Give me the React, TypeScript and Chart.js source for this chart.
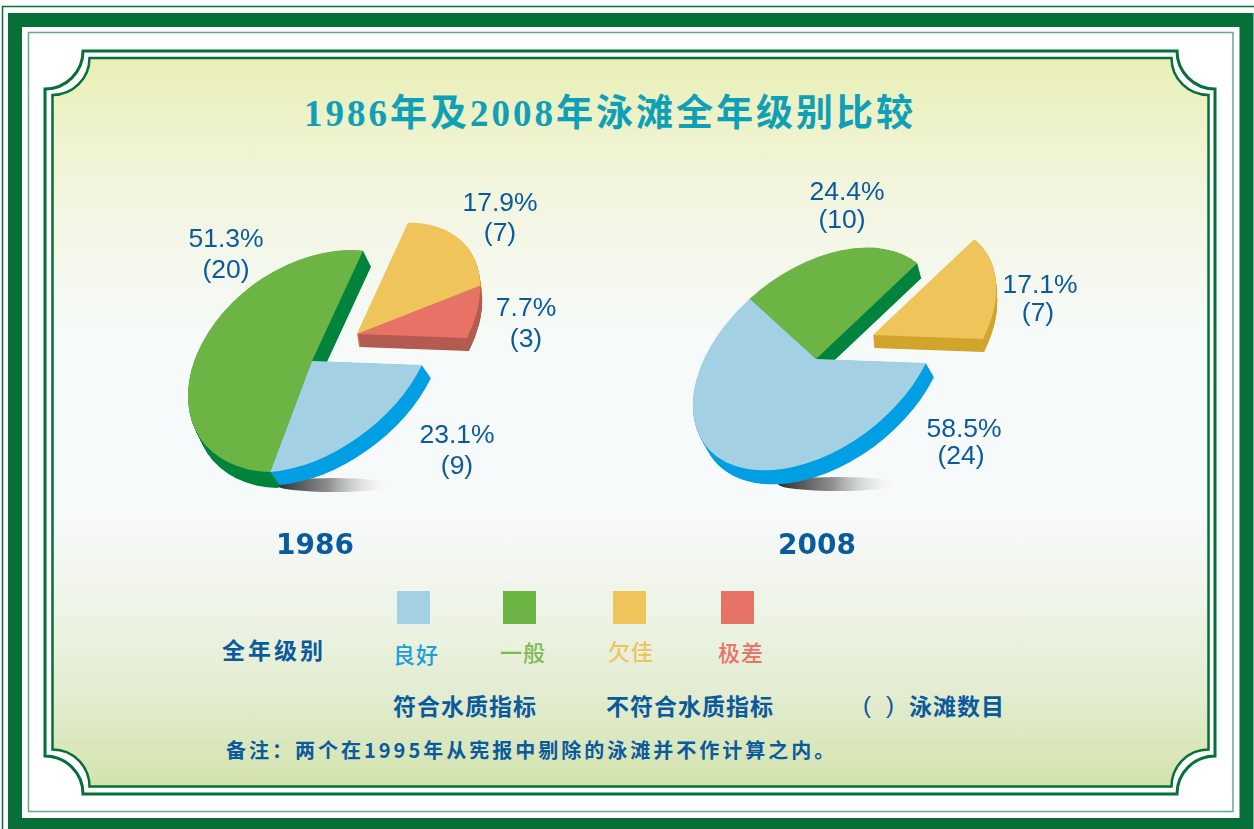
import React, { useEffect, useRef } from "react";
import { Chart, registerables } from "chart.js";

Chart.register(...registerables);

// ---------- data ----------
const categories = ["良好", "一般", "欠佳", "极差"];
const counts1986 = [9, 20, 7, 3];
const counts2008 = [24, 10, 7];
const percent1986 = ["23.1%", "51.3%", "17.9%", "7.7%"];
const percent2008 = ["58.5%", "24.4%", "17.1%"];
const yearLabels = ["1986", "2008"];
const noteCompliant = "符合水质指标";
const noteFail = "不符合水质指标";
const noteCount = "泳滩数目";
const titleText = "1986年及2008年泳滩全年级别比较";
const footText = "备注：两个在1995年从宪报中剔除的泳滩并不作计算之内。";
const gradeText = "全年级别";

// ---------- styles ----------
const topColors = ["#a3d0e3", "#6cb545", "#efc45b", "#e77266"];
const sideColors = ["#009fe3", "#00843d", "#d2a52d", "#b35c52"];
const legendTextColors = ["#1a9fd8", "#7cbb55", "#efc35f", "#e6756a"];
const BLUE = "#0b5a9e";
const FRAME = "#076f38";
const CJK = '"Noto Sans CJK SC","Noto Sans CJK TC",sans-serif';
const SERIF_CJK = '"Liberation Serif","Noto Sans CJK SC",serif';

// affine maps of the tilted pie: where unit x / unit y land, in pixels
const TILT = [110, 4, -55.5, 111.3];
const TILT_FULL = [111, 16, -55.6, 109.9];

const CANVAS_W = 420;
const CANVAS_H = 350;

function tiltedPiePlugin(
  apex: number[],
  offsets: number[][],
  depths: number[][],
  order: number[][],
  tilts: number[][]
) {
  return {
    id: "tiltedPie",
    beforeDatasetsDraw(chart: any) {
      const ctx = chart.ctx;
      const arcs = chart.getDatasetMeta(0).data;
      const paint = (i: number, dx: number, dy: number, color: string) => {
        const arc = arcs[i];
        const R = arc.outerRadius;
        const m = tilts[i];
        const saved = arc.options;
        arc.options = {
          backgroundColor: color,
          borderColor: color,
          borderWidth: 0,
          borderAlign: "center",
          borderRadius: 0,
          offset: 0,
          spacing: 0,
          circular: true,
        };
        ctx.save();
        ctx.transform(
          m[0] / R,
          m[1] / R,
          m[2] / R,
          m[3] / R,
          apex[0] + offsets[i][0] + dx,
          apex[1] + offsets[i][1] + dy
        );
        ctx.translate(-arc.x, -arc.y);
        arc.draw(ctx);
        ctx.restore();
        arc.options = saved;
      };
      for (const group of order) {
        for (const i of group) {
          const [dx, dy] = depths[i];
          const steps = Math.ceil(Math.max(Math.abs(dx), Math.abs(dy))) * 2;
          for (let s = steps; s >= 1; s--) {
            paint(i, (dx * s) / steps, (dy * s) / steps, sideColors[i]);
          }
        }
        for (const i of group) paint(i, 0, 0, topColors[i]);
      }
      return false;
    },
  };
}

function Pie(props: {
  left: number;
  top: number;
  values: number[];
  apex: number[];
  offsets: number[][];
  depths: number[][];
  order: number[][];
  tilts: number[][];
}) {
  const ref = useRef<HTMLCanvasElement>(null);
  useEffect(() => {
    const chart = new Chart(ref.current as HTMLCanvasElement, {
      type: "pie",
      data: {
        labels: categories.slice(0, props.values.length),
        datasets: [
          {
            data: props.values,
            backgroundColor: topColors.slice(0, props.values.length),
            borderWidth: 0,
          },
        ],
      },
      options: {
        responsive: false,
        animation: false,
        rotation: 90,
        layout: { padding: 0 },
        plugins: { legend: { display: false }, tooltip: { enabled: false } },
      },
      plugins: [tiltedPiePlugin(props.apex, props.offsets, props.depths, props.order, props.tilts)],
    } as any);
    return () => chart.destroy();
  }, []);
  return (
    <canvas
      ref={ref}
      width={CANVAS_W}
      height={CANVAS_H}
      style={{ position: "absolute", left: props.left, top: props.top, width: CANVAS_W, height: CANVAS_H }}
    />
  );
}

function T(props: {
  x: number;
  y: number;
  size: number;
  color?: string;
  font?: string;
  weight?: number;
  spacing?: number;
  center?: boolean;
  children: React.ReactNode;
}) {
  return (
    <div
      style={{
        position: "absolute",
        left: props.x,
        top: props.y - 30,
        height: 60,
        lineHeight: "60px",
        fontSize: props.size,
        color: props.color || BLUE,
        fontFamily: props.font || CJK,
        fontWeight: props.weight || 400,
        letterSpacing: props.spacing || 0,
        whiteSpace: "nowrap",
        transform: props.center ? "translateX(-50%)" : undefined,
      }}
    >
      {props.children}
    </div>
  );
}

function framePath(l: number, t: number, r: number, b: number, cx: number, cy: number) {
  return (
    `M${l + cx},${t} H${r - cx} A${cx},${cy} 0 0 0 ${r},${t + cy} V${b - cy} ` +
    `A${cx},${cy} 0 0 0 ${r - cx},${b} H${l + cx} A${cx},${cy} 0 0 0 ${l},${b - cy} V${t + cy} ` +
    `A${cx},${cy} 0 0 0 ${l + cx},${t} Z`
  );
}

const LABEL_FONT = '"Liberation Sans",Arial,sans-serif';
const label1986 = [
  [457, 434, 457, 465],
  [226, 238, 226, 269],
  [500, 202, 500, 232],
  [526, 307, 526, 338],
];
const label2008 = [
  [964, 428, 961, 455],
  [847, 191, 842, 219],
  [1040, 284, 1038, 312],
];
const legendSquareX = [397, 503, 613, 721];
const legendTextX = [393, 500, 608, 718];
const legendTextY = [653, 651, 650, 651];

export default function App() {
  const left1 = 150;
  const top1 = 170;
  const left2 = 660;
  const top2 = 170;
  return (
    <div style={{ position: "fixed", left: 0, top: 0, width: 1254, height: 829, overflow: "hidden", background: "#fff" }}>
      <svg width={1254} height={829} style={{ position: "absolute", left: 0, top: 0 }}>
        <defs>
          <linearGradient id="panel" x1="0" y1="0" x2="0" y2="1">
            <stop offset="0" stopColor="#e9efb6" />
            <stop offset="0.17" stopColor="#f2f5dc" />
            <stop offset="0.38" stopColor="#f6faf9" />
            <stop offset="0.62" stopColor="#f7fafb" />
            <stop offset="0.75" stopColor="#eff4e8" />
            <stop offset="0.88" stopColor="#e2ecce" />
            <stop offset="1" stopColor="#d3e3ad" />
          </linearGradient>
          <linearGradient id="shadow" x1="0" y1="0" x2="1" y2="0">
            <stop offset="0" stopColor="#2e2e2e" />
            <stop offset="0.45" stopColor="#8f8f8f" />
            <stop offset="1" stopColor="#ffffff" stopOpacity="0.1" />
          </linearGradient>
        </defs>
        <path d="M2.5,829 V6.5 H1254" fill="none" stroke={FRAME} strokeWidth={1.5} />
        <path d="M15,829 V20 H1246.5 V829" fill="none" stroke={FRAME} strokeWidth={14} />
        <rect x={8} y={818} width={1245} height={11} fill={FRAME} />
        <rect x={28.5} y={32.5} width={1204.5} height={779} fill="none" stroke="#6aa986" strokeWidth={1.5} />
        <path d={framePath(45, 51, 1215, 794, 38, 38)} fill="none" stroke={FRAME} strokeWidth={3} />
        <path d={framePath(52.5, 58, 1208.5, 786.5, 37, 37)} fill="url(#panel)" stroke={FRAME} strokeWidth={2.5} />
        <ellipse cx={334} cy={485} rx={58} ry={7} fill="url(#shadow)" />
        <ellipse cx={838} cy={484} rx={60} ry={7} fill="url(#shadow)" />
      </svg>

      <Pie
        left={left1}
        top={top1}
        values={counts1986}
        apex={[312 - left1, 361 - top1]}
        offsets={[[0, 0], [0, 0], [45, -27], [45, -27]]}
        depths={[[9, 13], [8, 16], [2, 13], [2, 13]]}
        order={[[1, 0], [2, 3]]}
        tilts={[TILT, TILT_FULL, TILT, TILT]}
      />
      <Pie
        left={left2}
        top={top2}
        values={counts2008}
        apex={[816 - left2, 359 - top2]}
        offsets={[[0, 0], [0, 0], [57, -24]]}
        depths={[[8, 14], [4, 15], [1, 13]]}
        order={[[1, 0], [2]]}
        tilts={[TILT, TILT, TILT]}
      />

      <T x={610} y={114} size={37} color="#0fa0b6" font={SERIF_CJK} weight={700} spacing={3} center>
        {titleText}
      </T>

      {percent1986.map((p, i) => (
        <React.Fragment key={"a" + i}>
          <T x={label1986[i][0]} y={label1986[i][1]} size={26.5} font={LABEL_FONT} center>{p}</T>
          <T x={label1986[i][2]} y={label1986[i][3]} size={26.5} font={LABEL_FONT} center>{`(${counts1986[i]})`}</T>
        </React.Fragment>
      ))}
      {percent2008.map((p, i) => (
        <React.Fragment key={"b" + i}>
          <T x={label2008[i][0]} y={label2008[i][1]} size={26.5} font={LABEL_FONT} center>{p}</T>
          <T x={label2008[i][2]} y={label2008[i][3]} size={26.5} font={LABEL_FONT} center>{`(${counts2008[i]})`}</T>
        </React.Fragment>
      ))}

      <T x={315} y={545} size={28} weight={700} font='"DejaVu Sans",sans-serif' center>{yearLabels[0]}</T>
      <T x={817} y={545} size={28} weight={700} font='"DejaVu Sans",sans-serif' center>{yearLabels[1]}</T>

      {categories.map((c, i) => (
        <React.Fragment key={c}>
          <div
            style={{
              position: "absolute",
              left: legendSquareX[i],
              top: 591,
              width: 33,
              height: 33,
              background: topColors[i],
            }}
          />
          <T x={legendTextX[i]} y={legendTextY[i]} size={22} color={legendTextColors[i]} spacing={1} weight={500}>{c}</T>
        </React.Fragment>
      ))}
      <T x={222} y={649} size={23} weight={700} spacing={3}>{gradeText}</T>
      <T x={393} y={705} size={23} weight={700} spacing={1}>{noteCompliant}</T>
      <T x={606} y={705} size={23} weight={700} spacing={1}>{noteFail}</T>
      <T x={863} y={705} size={24} weight={500} font={LABEL_FONT}>(</T>
      <T x={886} y={705} size={24} weight={500} font={LABEL_FONT}>)</T>
      <T x={909} y={705} size={23} weight={700} spacing={1}>{noteCount}</T>
      <T x={226} y={750} size={20} weight={700} spacing={3}>{footText}</T>
    </div>
  );
}
